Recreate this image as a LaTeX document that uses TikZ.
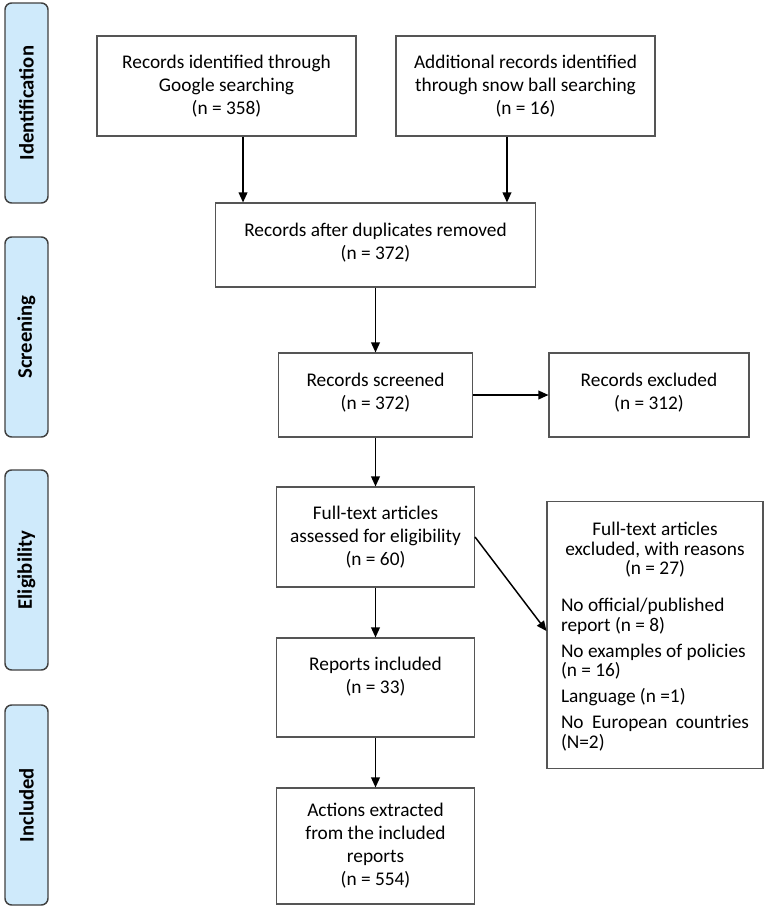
\documentclass[tikz,border=0pt]{standalone}
\usepackage{fontspec}
\setmainfont{Carlito}
\usetikzlibrary{arrows.meta}
\definecolor{stageblue}{RGB}{207,234,251}
\definecolor{boxline}{RGB}{85,85,85}

\begin{document}
\begin{tikzpicture}[x=0.75pt, y=-0.75pt,
    box/.style={draw=boxline, line width=0.8pt, inner sep=0pt, align=center,
      font=\fontsize{14.5pt}{17.3pt}\selectfont},
    stage/.style={draw=black!75, line width=1.1pt, fill=stageblue, rounded corners=5pt,
      rotate=90, minimum width=150pt, minimum height=32.25pt,
      font=\fontsize{15.5pt}{18pt}\selectfont\bfseries},
    arr/.style={-{Triangle[length=7.5pt, width=6.5pt]}, line width=1.1pt}]
\useasboundingbox (0,0) rectangle (767,911);

% stages on the left
\node[stage] (ident) at (26.5,103) {Identification};
\node[stage] (screen) at (26.5,337) {Screening};
\node[stage] (elig) at (26.5,570) {Eligibility};
\node[stage] (incl) at (26.5,805) {Included};

% flow boxes
\node[box, minimum width=194.25pt, minimum height=75pt] (google) at (226.5,86)
  {Records identified through\\Google searching\\(n = 358)};
\node[box, minimum width=194.25pt, minimum height=75pt] (snow) at (525.5,86)
  {Additional records identified\\through snow ball searching\\(n = 16)};
\node[box, minimum width=240pt, minimum height=63pt, text depth=6pt] (dup) at (375.5,245)
  {Records after duplicates removed\\(n = 372)};
\node[box, minimum width=145.5pt, minimum height=63pt, text depth=6pt] (scr) at (375.5,395)
  {Records screened\\(n = 372)};
\node[box, minimum width=150pt, minimum height=63pt, text depth=6pt] (excl) at (649,395)
  {Records excluded\\(n = 312)};
\node[box, minimum width=148.5pt, minimum height=75pt] (full) at (375.5,537)
  {Full-text articles\\assessed for eligibility\\(n = 60)};
\node[box, minimum width=148.5pt, minimum height=74.25pt, text depth=19pt] (rep) at (375.5,687.5)
  {Reports included\\(n = 33)};
\node[box, minimum width=148pt, minimum height=87pt] (act) at (375.5,846)
  {Actions extracted\\from the included\\reports\\(n = 554)};
\node[box, anchor=north, align=justify, text width=141pt, inner xsep=10.5pt,
  inner ysep=14.5pt, text height=11pt, text depth=160.25pt,
  font=\fontsize{14.5pt}{14.6pt}\selectfont] (reasons) at (655,501)
  {{\centering Full-text articles\\excluded, with reasons\\(n = 27)\par}
   \vspace{8.25pt}\setlength{\parskip}{5pt}
   No official/published\\report (n = 8)\par
   No examples of policies\\(n = 16)\par
   Language (n =1)\par
   No European countries\linebreak (N=2)\par};

% arrows
\draw[arr] ([xshift=12.4pt]google.south) -- ([xshift=12.4pt]google.south |- dup.north);
\draw[arr] ([xshift=-13.9pt]snow.south) -- ([xshift=-13.9pt]snow.south |- dup.north);
\draw[arr] (dup) -- (scr);
\draw[arr] (scr) -- (excl);
\draw[arr] (scr) -- (full);
\draw[arr] (full.east) -- ([yshift=3pt]reasons.west);
\draw[arr] (full) -- (rep);
\draw[arr] (rep) -- (act);
\end{tikzpicture}
\end{document}
